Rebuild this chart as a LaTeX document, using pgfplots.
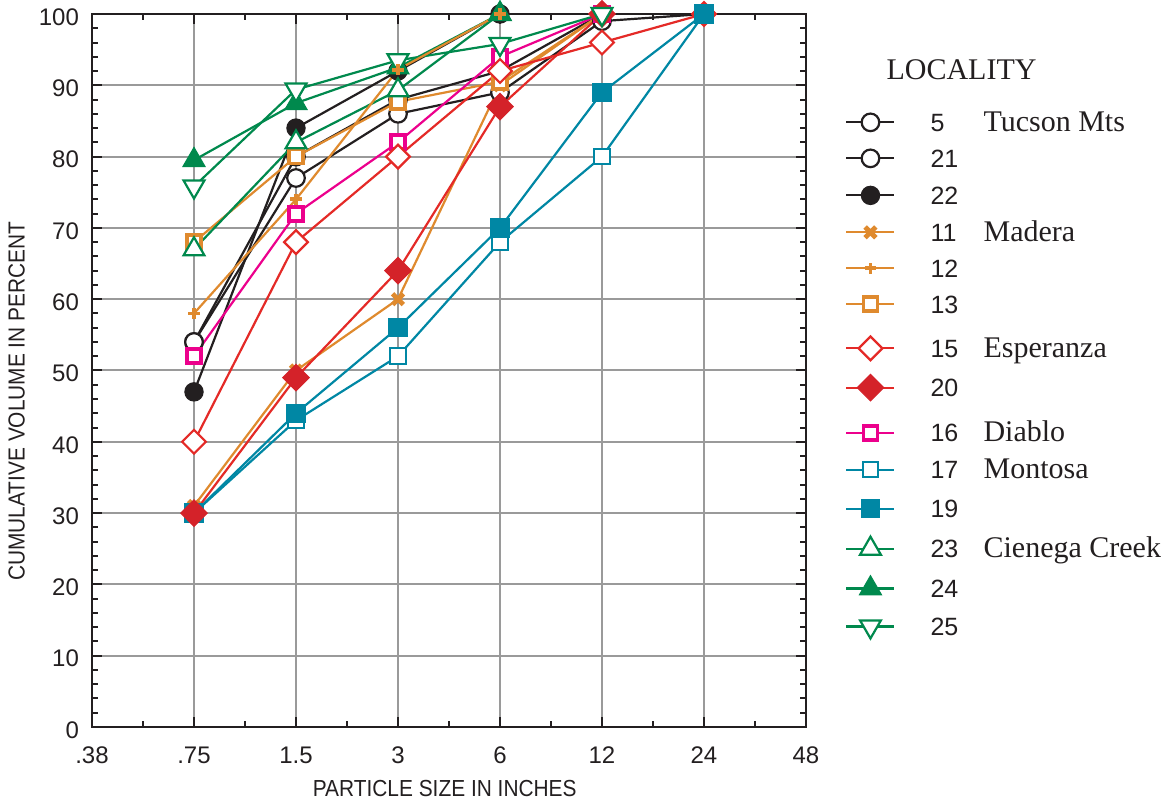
\documentclass[border=0pt]{standalone}
\usepackage{fontspec}
\setmainfont{Liberation Serif}
\setsansfont{Liberation Sans}
\newfontfamily\labfont[FakeStretch=0.9]{Liberation Sans}
\usepackage{pgfplots}
\pgfplotsset{compat=1.18}
\definecolor{cblack}{HTML}{231F20}
\definecolor{corange}{HTML}{DF8A2E}
\definecolor{cred}{HTML}{E42A27}
\definecolor{cdred}{HTML}{D42229}
\definecolor{cpink}{HTML}{EC008C}
\definecolor{cteal}{HTML}{0087A4}
\definecolor{cgreen}{HTML}{00894D}
\definecolor{cgrid}{HTML}{9A9A9A}
\newcommand{\numfont}{\sffamily\fontsize{12.5}{15}\selectfont}
\newcommand{\ent}[2]{\hspace*{17.5pt}\makebox[26.5pt][l]{\numfont #1}#2}
\pgfplotsset{
 s5/.style={cblack, line width=1.1pt, mark=*, mark size=4.4pt, mark options={solid, fill=white, draw=cblack, line width=1.1pt}},
 s22/.style={cblack, line width=1.1pt, mark=*, mark size=4.6pt, mark options={solid, fill=cblack, draw=cblack, line width=0.5pt}},
 s11/.style={corange, line width=1.1pt, mark=x, mark size=3.8pt, mark options={solid, line width=2.4pt}},
 s12/.style={corange, line width=1.1pt, mark=+, mark size=2.8pt, mark options={solid, line width=1.9pt}},
 s13/.style={corange, line width=1.1pt, mark=square*, mark size=3.5pt, mark options={solid, fill=white, draw=corange, line width=1.9pt}},
 s15/.style={cred, line width=1.1pt, mark=square*, mark size=4.2pt, mark options={solid, rotate=45, fill=white, draw=cred, line width=1.1pt}},
 s20/.style={cred, line width=1.1pt, mark=square*, mark size=4.7pt, mark options={solid, rotate=45, fill=cdred, draw=cdred, line width=0.5pt}},
 s16/.style={cpink, line width=1.1pt, mark=square*, mark size=3.5pt, mark options={solid, fill=white, draw=cpink, line width=1.9pt}},
 s17/.style={cteal, line width=1.1pt, mark=square*, mark size=3.9pt, mark options={solid, fill=white, draw=cteal, line width=1pt}},
 s19/.style={cteal, line width=1.1pt, mark=square*, mark size=4.6pt, mark options={solid, fill=cteal, draw=cteal, line width=0.5pt}},
 s23/.style={cgreen, line width=1.1pt, mark=triangle*, mark size=6pt, mark options={solid, fill=white, draw=cgreen, line width=1.1pt}},
 s24/.style={cgreen, line width=1.1pt, mark=triangle*, mark size=6.4pt, mark options={solid, fill=cgreen, draw=cgreen, line width=0.5pt}},
 s25/.style={cgreen, line width=1.1pt, mark=triangle*, mark size=6pt, mark options={solid, rotate=180, fill=white, draw=cgreen, line width=1.1pt}},
}
\begin{document}
\begin{tikzpicture}
\begin{axis}[
 name=ax,
 scale only axis, width=357pt, height=356.5pt,
 xmin=0, xmax=7, ymin=0, ymax=100,
 clip=false,
 xtick={0,1,2,3,4,5,6,7},
 xticklabels={.38,.75,1.5,3,6,12,24,48},
 minor x tick num=1,
 ytick={0,10,...,100},
 minor y tick num=4,
 tick align=inside,
 xticklabel pos=lower, yticklabel pos=left,
 major tick length=5pt, minor tick length=3pt,
 every tick/.style={cblack, line width=1pt},
 grid=major,
 major grid style={cgrid, line width=1pt},
 axis line style={cblack, line width=1.3pt},
 /pgf/number format/assume math mode=true,
 ticklabel style={font=\sffamily\fontsize{12}{14}\selectfont, text=cblack},
 xticklabel style={yshift=-6.5pt},
 yticklabel style={xshift=-3pt, yshift=-1.5pt},
 xlabel={PARTICLE SIZE IN INCHES},
 ylabel={CUMULATIVE VOLUME IN PERCENT},
 every axis x label/.style={at={(axis description cs:0.494,-0.0856)}, anchor=center, font=\labfont\fontsize{11.6}{14}\selectfont, text=cblack},
 every axis y label/.style={at={(axis description cs:-0.1057,0.457)}, rotate=90, anchor=center, font=\labfont\fontsize{11.6}{14}\selectfont, text=cblack},
 legend image code/.code={\draw[yshift=4.5pt,mark repeat=2,mark phase=2,#1] plot coordinates {(0pt,0pt) (12pt,0pt) (24pt,0pt)};},
 legend cell align=left,
 legend style={at={(1.0546,0.8654)}, anchor=north west, draw=none, fill=none, inner sep=0pt, row sep=4.2pt, column sep=0pt, font=\fontsize{15}{18}\selectfont, text=cblack, cells={anchor=base west}, nodes={inner sep=0pt}},
]
% data, drawn in this order
\addplot[s5, forget plot] coordinates {(1,54) (2,77) (3,86) (4,89) (5,99) (6,100)};
\addplot[s5, forget plot] coordinates {(1,54) (2,80) (3,88) (4,92) (5,100)};
\addplot[s22, forget plot] coordinates {(1,47) (2,84) (3,92) (4,100)};
\addplot[s11, forget plot] coordinates {(1,31) (2,50) (3,60) (4,90) (5,100)};
\addplot[s13, forget plot] coordinates {(1,68) (2,80) (3,87.7) (4,90.5) (5,100)};
\addplot[s16, forget plot] coordinates {(1,52) (2,72) (3,82) (4,94) (5,100)};
\addplot[s15, forget plot] coordinates {(1,40) (2,68) (3,80) (4,92) (5,96) (6,100)};
\addplot[s17, forget plot] coordinates {(1,30) (2,43) (3,52) (4,68) (5,80) (6,100)};
\addplot[s19, forget plot] coordinates {(1,30) (2,44) (3,56) (4,70) (5,89) (6,100)};
\addplot[s20, forget plot] coordinates {(1,30) (2,49) (3,64) (4,87) (5,100)};
\addplot[s23, forget plot] coordinates {(1,67) (2,82) (3,89.3) (4,100)};
\addplot[s24, forget plot] coordinates {(1,79.5) (2,87.5) (3,92.5) (4,100)};
\addplot[s25, forget plot] coordinates {(1,75.8) (2,89.4) (3,93.5) (4,95.8) (5,100)};
\addplot[s12, forget plot] coordinates {(1,58) (2,74) (3,92.2) (4,100)};
% legend
\addlegendimage{s5}\addlegendentry[text height=10.5pt, text depth=3.3pt]{\ent{5}{Tucson Mts}}
\addlegendimage{s5}\addlegendentry[text height=10.5pt, text depth=3.8pt]{\ent{21}{}}
\addlegendimage{s22}\addlegendentry[text height=10.5pt, text depth=3.8pt]{\ent{22}{}}
\addlegendimage{s11}\addlegendentry[text height=10.5pt, text depth=3.3pt]{\ent{11}{Madera}}
\addlegendimage{s12}\addlegendentry[text height=10.5pt, text depth=3.3pt]{\ent{12}{}}
\addlegendimage{s13}\addlegendentry[text height=10.5pt, text depth=7.3pt]{\ent{13}{}}
\addlegendimage{s15}\addlegendentry[text height=10.5pt, text depth=4.3pt]{\ent{15}{Esperanza}}
\addlegendimage{s20}\addlegendentry[text height=10.5pt, text depth=7.8pt]{\ent{20}{}}
\addlegendimage{s16}\addlegendentry[text height=10.5pt, text depth=3.8pt]{\ent{16}{Diablo}}
\addlegendimage{s17}\addlegendentry[text height=10.5pt, text depth=4.8pt]{\ent{17}{Montosa}}
\addlegendimage{s19}\addlegendentry[text height=10.5pt, text depth=5.3pt]{\ent{19}{}}
\addlegendimage{s23}\addlegendentry[text height=10.5pt, text depth=4.8pt]{\ent{23}{Cienega Creek}}
\addlegendimage{s24}\addlegendentry[text height=10.5pt, text depth=4.3pt]{\ent{24}{}}
\addlegendimage{s25}\addlegendentry[text height=10.5pt, text depth=3.5pt]{\ent{25}{}}
\node[font=\fontsize{15}{18}\selectfont, text=cblack] at (rel axis cs:1.2178,0.9215) {LOCALITY};
\end{axis}
\pgfresetboundingbox
\path ([xshift=-46pt,yshift=-38pt]ax.south west) rectangle ([xshift=180.5pt,yshift=7pt]ax.north east);
\end{tikzpicture}
\end{document}
